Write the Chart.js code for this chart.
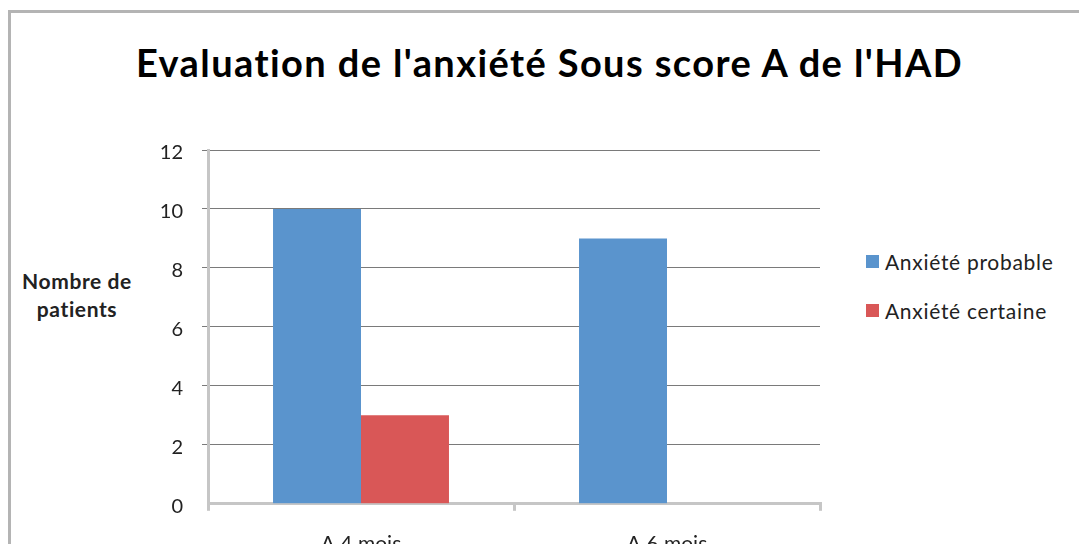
<!DOCTYPE html>
<html lang="fr">
<head>
<meta charset="utf-8">
<script src="https://cdn.jsdelivr.net/npm/chart.js@4/dist/chart.umd.min.js"></script>
<style>
    html, body { margin: 0; padding: 0; background: #fff; overflow: hidden; }
    body { width: 1079px; height: 544px; position: relative; font-family: Lato, sans-serif; }
    .frame { position: absolute; left: 8px; top: 10px; width: 1200px; height: 700px; border: 3px solid #b4b4b4; }
    .wrap { position: absolute; left: 0; top: 0; width: 1079px; height: 580px; }
    #chart-title { position: absolute; left: 20px; width: 1059px; top: 39px; text-align: center;
        font: bold 38px Lato, sans-serif; letter-spacing: 1.4px; color: #000; }
    #y-title { position: absolute; left: 8px; width: 138px; top: 267px; text-align: center;
        font: bold 21px/28px Lato, sans-serif; letter-spacing: 0.6px; color: #222; }
    #legend { position: absolute; left: 866px; top: 249px; list-style: none; margin: 0; padding: 0;
        font: 21px Lato, sans-serif; letter-spacing: 0.7px; color: #222; }
    #legend li { height: 26px; line-height: 26px; margin-bottom: 23px; white-space: nowrap; }
    #legend span { display: inline-block; width: 13px; height: 13px; margin-right: 6px; vertical-align: 2px; }
</style>
</head>
<body>
<div class="frame"></div>
<div id="chart-title">Evaluation de l'anxiété Sous score A de l'HAD</div>
<div id="y-title">Nombre de<br>patients</div>
<ul id="legend"></ul>
<div class="wrap"><canvas id="had-chart" width="1079" height="580"></canvas></div>
<script>
const categories = ['A 4 mois', 'A 6 mois'];
const seriesNames = ['Anxiété probable', 'Anxiété certaine'];
const probable = [10, 9];
const certaine = [3, 0];
const yTicks = [0, 2, 4, 6, 8, 10, 12];
const colors = ['#5a94cd', '#d95757'];

document.addEventListener('DOMContentLoaded', function () {
    const ctx = document.getElementById('had-chart').getContext('2d');

    const chart = new Chart(ctx, {
        type: 'bar',
        data: {
            labels: categories,
            datasets: [
                { label: seriesNames[0], data: probable, backgroundColor: colors[0] },
                { label: seriesNames[1], data: certaine, backgroundColor: colors[1] }
            ]
        },
        options: {
            responsive: false,
            animation: false,
            layout: { padding: { left: 0, right: 259, top: 150, bottom: 2 } },
            datasets: {
                bar: { barPercentage: 1, categoryPercentage: 0.575 }
            },
            plugins: {
                legend: { display: false },
                title: { display: false },
                tooltip: { enabled: false }
            },
            scales: {
                y: {
                    min: 0,
                    max: 12,
                    afterFit: function (scale) { scale.width = 208; },
                    afterBuildTicks: function (scale) {
                        scale.ticks = yTicks.map(v => ({ value: v }));
                    },
                    grid: {
                        color: ctx => ctx.tick && ctx.tick.value === 0 ? 'rgba(0,0,0,0)' : '#7a7a7a',
                        lineWidth: 1,
                        tickLength: 6,
                        drawTicks: true
                    },
                    border: { color: '#c6c6c6', width: 3 },
                    ticks: {
                        padding: 19,
                        labelOffset: 3,
                        color: '#222',
                        font: { family: 'Lato', size: 20 }
                    }
                },
                x: {
                    grid: {
                        offset: true,
                        drawOnChartArea: false,
                        drawTicks: true,
                        tickLength: 7,
                        color: '#c6c6c6',
                        lineWidth: 3
                    },
                    border: { color: '#c6c6c6', width: 3 },
                    ticks: {
                        padding: 21,
                        color: '#222',
                        font: { family: 'Lato', size: 21 }
                    }
                }
            }
        }
    });

    const legendList = document.getElementById('legend');
    chart.data.datasets.forEach(function (ds) {
        const li = document.createElement('li');
        li.innerHTML = `<span style="background:${ds.backgroundColor}"></span>${ds.label}`;
        legendList.appendChild(li);
    });
});
</script>
</body>
</html>
